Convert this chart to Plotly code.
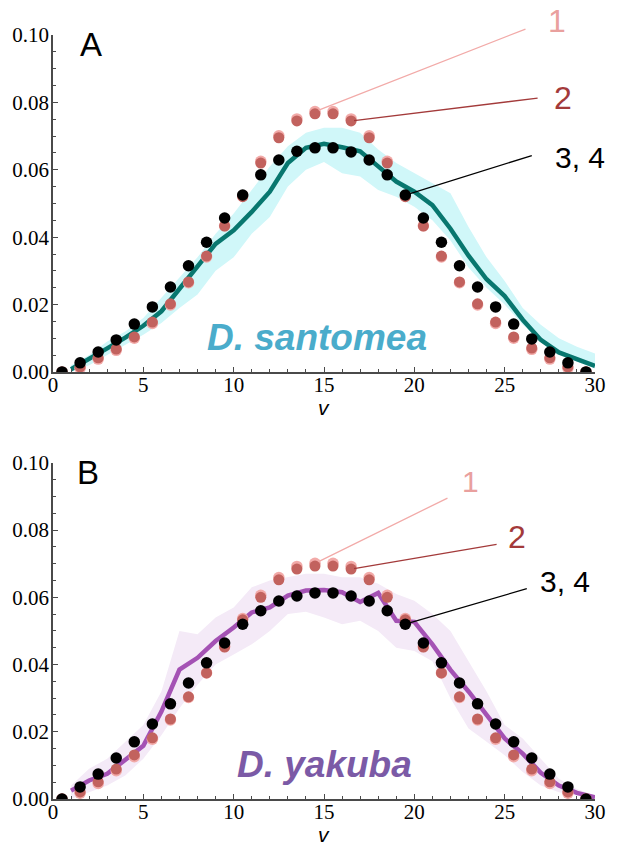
import plotly.graph_objects as go

# bin centres for the dots, integer grid for the model curve + band
v_pts = [0.5, 1.5, 2.5, 3.5, 4.5, 5.5, 6.5, 7.5, 8.5, 9.5,
         10.5, 11.5, 12.5, 13.5, 14.5, 15.5, 16.5, 17.5, 18.5, 19.5,
         20.5, 21.5, 22.5, 23.5, 24.5, 25.5, 26.5, 27.5, 28.5, 29.5]
v_line = [1, 2, 3, 4, 5, 6, 7, 8, 9, 10, 11, 12, 13, 14, 15,
          16, 17, 18, 19, 20, 21, 22, 23, 24, 25, 26, 27, 28, 29, 30]

# --- D. santomea (panel A)
san_1 = [0.0, 0.0011, 0.0038, 0.0064, 0.0100, 0.0144, 0.0199, 0.0265, 0.0341, 0.0434,
         0.0523, 0.0625, 0.0701, 0.0751, 0.0773, 0.0773, 0.0751, 0.0701, 0.0625, 0.0523,
         0.0434, 0.0341, 0.0265, 0.0199, 0.0144, 0.0100, 0.0067, 0.0038, 0.0011, 0.0]
san_2 = [0.0, 0.0015, 0.0042, 0.0068, 0.0104, 0.0148, 0.0202, 0.0267, 0.0344, 0.0433,
         0.0520, 0.0620, 0.0695, 0.0745, 0.0766, 0.0766, 0.0745, 0.0695, 0.0620, 0.0520,
         0.0433, 0.0344, 0.0267, 0.0202, 0.0148, 0.0104, 0.0071, 0.0042, 0.0015, 0.0]
san_34 = [0.0, 0.0027, 0.0059, 0.0095, 0.0142, 0.0193, 0.0252, 0.0315, 0.0385, 0.0457,
          0.0525, 0.0585, 0.0629, 0.0655, 0.0665, 0.0665, 0.0653, 0.0629, 0.0585, 0.0525,
          0.0457, 0.0385, 0.0315, 0.0252, 0.0193, 0.0142, 0.0098, 0.0059, 0.0027, 0.0]
san_fit = [0.0008, 0.0038, 0.0070, 0.0102, 0.0137, 0.0180, 0.0245, 0.0310, 0.0380, 0.0420,
           0.0475, 0.0535, 0.0620, 0.0665, 0.0677, 0.0667, 0.0655, 0.0610, 0.0565, 0.0535,
           0.0495, 0.0425, 0.0345, 0.0275, 0.0225, 0.0155, 0.0095, 0.0058, 0.0038, 0.0018]
san_lo = [0.0, 0.0020, 0.0050, 0.0080, 0.0110, 0.0145, 0.0190, 0.0230, 0.0300, 0.0340,
          0.0410, 0.0460, 0.0550, 0.0600, 0.0623, 0.0590, 0.0580, 0.0540, 0.0520, 0.0490,
          0.0450, 0.0390, 0.0310, 0.0250, 0.0200, 0.0140, 0.0095, 0.0060, 0.0030, 0.0010]
san_hi = [0.0020, 0.0050, 0.0090, 0.0120, 0.0160, 0.0220, 0.0280, 0.0340, 0.0410, 0.0470,
          0.0540, 0.0610, 0.0670, 0.0710, 0.0725, 0.0725, 0.0710, 0.0660, 0.0620, 0.0590,
          0.0560, 0.0530, 0.0430, 0.0340, 0.0270, 0.0190, 0.0140, 0.0100, 0.0075, 0.0055]

# --- D. yakuba (panel B)
yak_1 = [0.0, 0.0017, 0.0046, 0.0084, 0.0126, 0.0178, 0.0235, 0.0302, 0.0375, 0.0454,
         0.0537, 0.0606, 0.0659, 0.0692, 0.0701, 0.0701, 0.0692, 0.0659, 0.0606, 0.0537,
         0.0454, 0.0375, 0.0302, 0.0235, 0.0178, 0.0126, 0.0084, 0.0046, 0.0017, 0.0]
yak_2 = [0.0, 0.0021, 0.0051, 0.0089, 0.0131, 0.0182, 0.0238, 0.0304, 0.0375, 0.0452,
         0.0533, 0.0600, 0.0652, 0.0684, 0.0693, 0.0693, 0.0684, 0.0652, 0.0600, 0.0533,
         0.0452, 0.0375, 0.0304, 0.0238, 0.0182, 0.0131, 0.0089, 0.0051, 0.0021, 0.0]
yak_34 = [0.0, 0.0036, 0.0074, 0.0122, 0.0170, 0.0223, 0.0283, 0.0345, 0.0405, 0.0464,
          0.0520, 0.0560, 0.0589, 0.0604, 0.0613, 0.0613, 0.0604, 0.0589, 0.0560, 0.0520,
          0.0464, 0.0405, 0.0345, 0.0283, 0.0223, 0.0170, 0.0122, 0.0074, 0.0036, 0.0]
yak_fit = [0.0025, 0.0055, 0.0075, 0.0115, 0.0158, 0.0260, 0.0385, 0.0420, 0.0470, 0.0510,
           0.0555, 0.0570, 0.0605, 0.0620, 0.0622, 0.0615, 0.0586, 0.0613, 0.0530, 0.0527,
           0.0460, 0.0384, 0.0320, 0.0250, 0.0180, 0.0135, 0.0078, 0.0040, 0.0018, 0.0005]
yak_lo = [0.0, 0.0020, 0.0040, 0.0070, 0.0120, 0.0190, 0.0270, 0.0340, 0.0400, 0.0430,
          0.0460, 0.0500, 0.0550, 0.0557, 0.0540, 0.0520, 0.0530, 0.0500, 0.0450, 0.0440,
          0.0410, 0.0300, 0.0210, 0.0170, 0.0130, 0.0080, 0.0040, 0.0020, 0.0010, 0.0]
yak_hi = [0.0040, 0.0090, 0.0120, 0.0170, 0.0220, 0.0320, 0.0500, 0.0490, 0.0540, 0.0570,
          0.0630, 0.0650, 0.0660, 0.0670, 0.0670, 0.0660, 0.0660, 0.0640, 0.0610, 0.0590,
          0.0550, 0.0500, 0.0410, 0.0320, 0.0220, 0.0180, 0.0120, 0.0060, 0.0030, 0.0010]

PINK, RED, DARKRED = '#f2aaa8', '#c2625e', '#a33a3a'
SERIF = 'Liberation Serif, Times New Roman, serif'
SANS = 'Liberation Sans, Arial, sans-serif'

# label positions are in paper fractions (plot area: 544 x 764 px)
panels = [
    dict(xa='x', ya='y', s1=san_1, s2=san_2, s34=san_34, fit=san_fit, lo=san_lo, hi=san_hi,
         line='#08776f', band='#d0f7f9', name='D. santomea', name_col='#4aaccb', letter='A',
         lines=[(212, -83, 4), (188, -23, 3), (128, -40, 0)],
         txt=[(0.930, 1.018), (0.941, 0.918), (0.972, 0.840)], tsize=[32, 32, 30],
         letter_pos=(0.070, 0.988), name_pos=(0.487, 0.604), v_pos=(0.5, 0.512)),
    dict(xa='x2', ya='y2', s1=yak_1, s2=yak_2, s34=yak_34, fit=yak_fit, lo=yak_lo, hi=yak_hi,
         line='#a452b4', band='#f4eaf7', name='D. yakuba', name_col='#7b5aa6', letter='B',
         lines=[(134, -66, 4), (147, -25, 3), (123, -36, 0)],
         txt=[(0.770, 0.416), (0.857, 0.343), (0.945, 0.285)], tsize=[30, 32, 30],
         letter_pos=(0.064, 0.428), name_pos=(0.500, 0.045), v_pos=(0.5, -0.046)),
]

fig = go.Figure()
annots = []


def label(x, y, text, font):
    return dict(x=x, y=y, xref='paper', yref='paper', xanchor='center', yanchor='middle',
                text=text, showarrow=False, font=font)


for p in panels:
    ax = dict(xaxis=p['xa'], yaxis=p['ya'], showlegend=False, hoverinfo='skip')
    fig.add_trace(go.Scatter(x=v_line, y=p['lo'], mode='lines', line=dict(width=0), **ax))
    fig.add_trace(go.Scatter(x=v_line, y=p['hi'], mode='lines', line=dict(width=0),
                             fill='tonexty', fillcolor=p['band'], **ax))
    fig.add_trace(go.Scatter(x=v_line, y=p['fit'], mode='lines',
                             line=dict(color=p['line'], width=4.5), **ax))
    fig.add_trace(go.Scatter(x=v_pts, y=p['s1'], mode='markers',
                             marker=dict(color=PINK, size=11.5), **ax))
    fig.add_trace(go.Scatter(x=v_pts, y=p['s2'], mode='markers',
                             marker=dict(color=RED, size=11), **ax))
    fig.add_trace(go.Scatter(x=v_pts, y=p['s34'], mode='markers',
                             marker=dict(color='black', size=11.5), **ax))

    # leader lines from the curve labels to the dots
    targets = [(14.5, p['s1'][14], PINK), (16.5, p['s2'][16], DARKRED), (19.5, p['s34'][19], 'black')]
    for (tx, ty, col), (dx, dy, so) in zip(targets, p['lines']):
        annots.append(dict(x=tx, y=ty, xref=p['xa'], yref=p['ya'], text='', showarrow=True,
                           arrowhead=0, arrowwidth=1.3, arrowcolor=col, ax=dx, ay=dy,
                           axref='pixel', ayref='pixel', standoff=so))
    for lab, col, (lx, ly), fs in zip(['1', '2', '3, 4'], ['#e9a09e', DARKRED, 'black'],
                                      p['txt'], p['tsize']):
        annots.append(label(lx, ly, lab, dict(family=SANS, size=fs, color=col)))

    annots.append(label(*p['letter_pos'], p['letter'], dict(family=SANS, size=33, color='black')))
    annots.append(label(*p['name_pos'], '<b><i>' + p['name'] + '</i></b>',
                        dict(family=SANS, size=37, color=p['name_col'])))
    annots.append(label(*p['v_pos'], '<i>v</i>', dict(family=SANS, size=21, color='black')))

axis_common = dict(showline=True, linecolor='#4a4a4a', linewidth=1.5, mirror=False,
                   showgrid=False, zeroline=False, ticks='inside', ticklen=5,
                   tickcolor='#4a4a4a', tickwidth=1.2,
                   tickfont=dict(family=SERIF, size=21, color='black'))
xstyle = dict(range=[0, 30], tickvals=[0, 5, 10, 15, 20, 25, 30], ticklabelstandoff=-7,
              minor=dict(ticks='inside', ticklen=3, dtick=1, tickcolor='#4a4a4a'), **axis_common)
ystyle = dict(range=[0, 0.1], tickvals=[0, 0.02, 0.04, 0.06, 0.08, 0.10], tickformat='.2f',
              ticklabelstandoff=-2,
              minor=dict(ticks='inside', ticklen=3, dtick=0.005, tickcolor='#4a4a4a'), **axis_common)

fig.update_layout(
    width=618, height=849,
    margin=dict(l=51, r=23, t=35, b=50),
    paper_bgcolor='white', plot_bgcolor='white',
    xaxis=dict(domain=[0, 1], anchor='y', **xstyle),
    yaxis=dict(domain=[0.559, 1], anchor='x', **ystyle),
    xaxis2=dict(domain=[0, 1], anchor='y2', **xstyle),
    yaxis2=dict(domain=[0, 0.44], anchor='x2', **ystyle),
    annotations=annots,
)

# drop the default 8px body margin so the 618x849 figure fills the window exactly
fig.write_html("out.html", config={'displayModeBar': False},
               post_script="document.body.style.margin='0';")
